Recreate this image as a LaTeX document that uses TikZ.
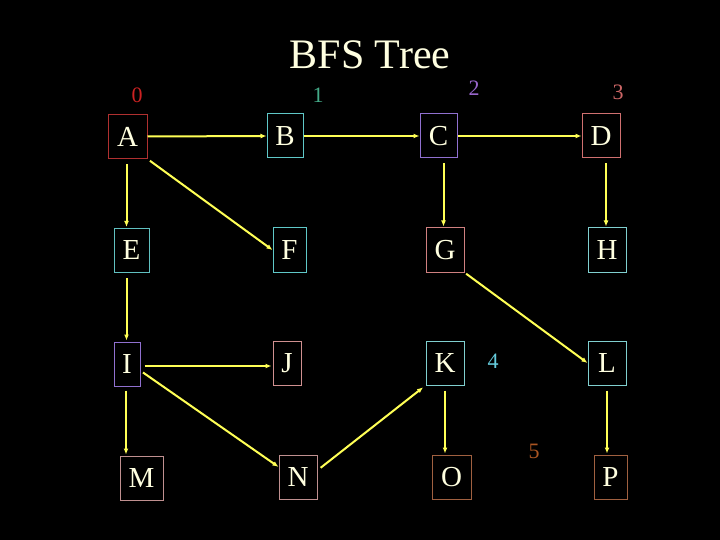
\documentclass[tikz,border=0pt]{standalone}
\usepackage{fontspec}
\setmainfont{Liberation Serif}
\usetikzlibrary{arrows.meta,calc}
\definecolor{txt}{HTML}{FFFFE0}
\definecolor{yel}{HTML}{FFFF55}
\definecolor{cA}{HTML}{B03030}
\definecolor{cB}{HTML}{5FC8C8}
\definecolor{cC}{HTML}{9070D0}
\definecolor{cD}{HTML}{D07070}
\definecolor{cE}{HTML}{60C0C0}
\definecolor{cG}{HTML}{D08080}
\definecolor{cH}{HTML}{80D0D0}
\definecolor{cJ}{HTML}{D09090}
\definecolor{cM}{HTML}{C09090}
\definecolor{cO}{HTML}{A06040}
\definecolor{l0}{HTML}{CC2222}
\definecolor{l1}{HTML}{44AA88}
\definecolor{l2}{HTML}{9966CC}
\definecolor{l3}{HTML}{CC6666}
\definecolor{l4}{HTML}{66CCDD}
\definecolor{l5}{HTML}{AA5522}
\tikzset{
  vbox/.style={draw=#1, line width=1pt, text=txt, inner sep=0pt, minimum height=44pt, font=\fontsize{29}{29}\selectfont},
  lvl/.style={text=#1, inner sep=0pt, font=\fontsize{22}{22}\selectfont},
  edge/.style={draw=yel, line width=2pt, -{Latex[length=6pt,width=5pt]}}
}
\begin{document}
\begin{tikzpicture}[x=1pt,y=-1pt]
\fill[black] (0,0) rectangle (720,540);
\useasboundingbox (0,0) rectangle (720,540);
\node[text=txt, inner sep=0pt, font=\fontsize{42}{42}\selectfont] (title) at (370,55) {BFS Tree};
\node[lvl=l0] (n0) at (137,95) {0};
\node[lvl=l1] (n1) at (318,95) {1};
\node[lvl=l2] (n2) at (474,88) {2};
\node[lvl=l3] (n3) at (618,92) {3};
\node[lvl=l4] (n4) at (493,361) {4};
\node[lvl=l5] (n5) at (534,451) {5};

\node[vbox=cA, minimum width=39pt] (A) at (127.5,136.5) {A};
\node[vbox=cB, minimum width=36pt] (B) at (285,136) {B};
\node[vbox=cC, minimum width=37pt] (C) at (438.5,136) {C};
\node[vbox=cD, minimum width=38pt] (D) at (601,136) {D};
\node[vbox=cE, minimum width=35pt] (E) at (131.5,250.5) {E};
\node[vbox=cB, minimum width=33pt] (F) at (289.5,250) {F};
\node[vbox=cG, minimum width=38pt] (G) at (445,250) {G};
\node[vbox=cH, minimum width=38pt] (H) at (607,250) {H};
\node[vbox=cC, minimum width=26pt] (I) at (127,364) {I};
\node[vbox=cJ, minimum width=28pt] (J) at (287,363) {J};
\node[vbox=cH, minimum width=38pt] (K) at (445,363) {K};
\node[vbox=cH, minimum width=38pt] (L) at (607,363) {L};
\node[vbox=cM, minimum width=43pt] (M) at (141.5,478) {M};
\node[vbox=cM, minimum width=38pt] (N) at (298,477) {N};
\node[vbox=cO, minimum width=39pt] (O) at (451.5,477) {O};
\node[vbox=cO, minimum width=33pt] (P) at (610.5,477) {P};

\draw[edge] (A.east) -- (B.west);
\draw[edge] (B.east) -- (C.west);
\draw[edge] (C.east) -- (D.west);
\draw[edge, shorten <=3pt] (A.south east) -- (F.west);
\draw[edge, shorten <=5pt, shorten >=1pt] ([xshift=-1pt]A.south) -- ([xshift=-1pt]A.south |- E.north);
\draw[edge, shorten <=5pt, shorten >=1pt] ([xshift=5pt]C.south) -- ([xshift=5pt]C.south |- G.north);
\draw[edge, shorten <=5pt, shorten >=1pt] ([xshift=5pt]D.south) -- ([xshift=5pt]D.south |- H.north);
\draw[edge, shorten <=5pt, shorten >=1pt] ([xshift=-5pt]E.south) -- ([xshift=-5pt]E.south |- I.north);
\draw[edge, shorten <=4pt, shorten >=1pt] ([xshift=-1pt]I.south) -- ([xshift=-1pt]I.south |- M.north);
\draw[edge, shorten <=4pt, shorten >=1pt] ([yshift=-2pt]I.east) -- ([yshift=-2pt]I.east -| J.west);
\draw[edge, shorten <=3pt] ($(I.east)!0.3!(I.south east)$) -- ($(N.west)!0.45!(N.north west)$);
\draw[edge, shorten <=2pt] (G.south east) -- (L.west);
\draw[edge, shorten <=4pt, shorten >=3pt] ($(N.east)!0.3!(N.north east)$) -- (K.south west);
\draw[edge, shorten <=5pt, shorten >=1pt] (K.south) -- (K.south |- O.north);
\draw[edge, shorten <=5pt, shorten >=1pt] (L.south) -- (L.south |- P.north);
\end{tikzpicture}
\end{document}
